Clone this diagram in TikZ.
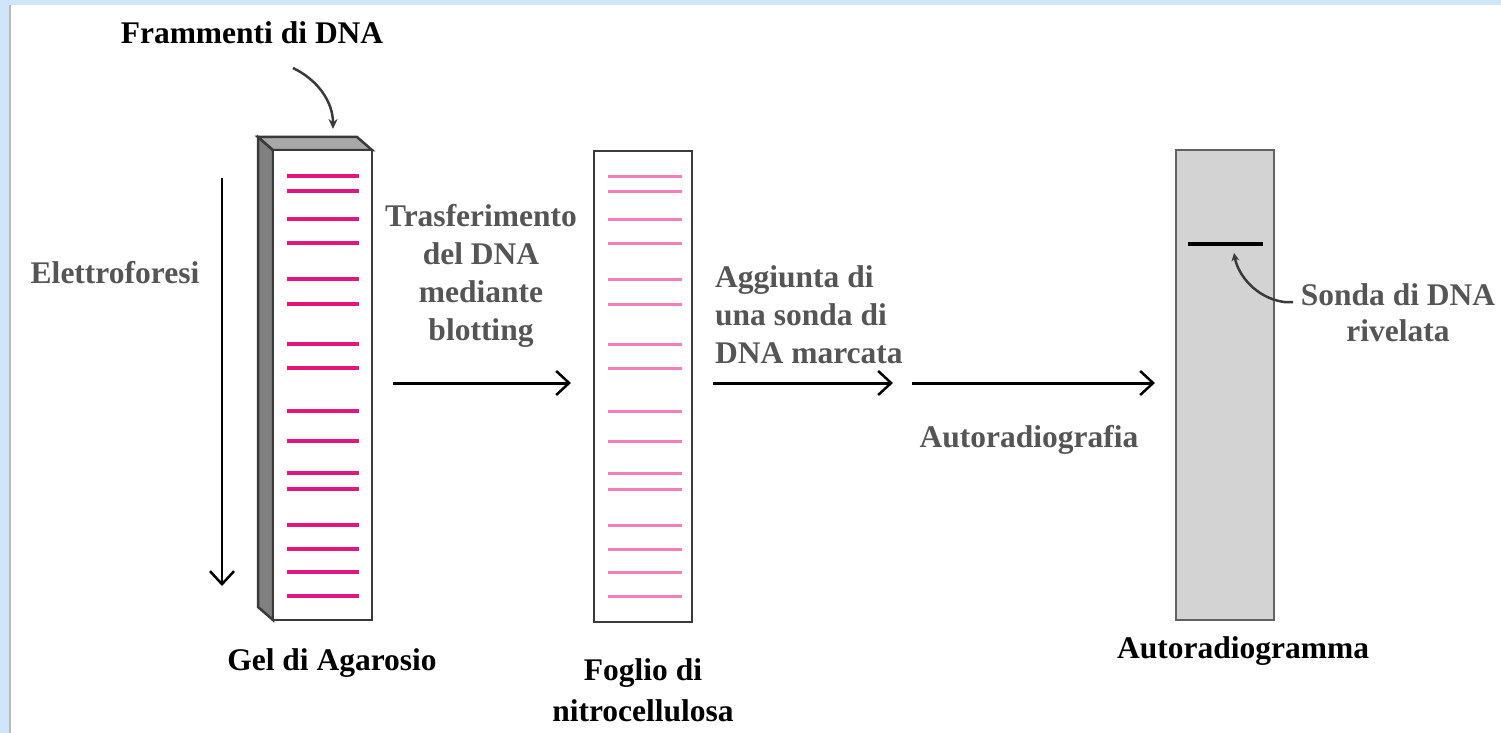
\documentclass[tikz,border=0pt]{standalone}
\usepackage{fontspec}
\setmainfont{Liberation Serif}
\usetikzlibrary{arrows.meta}
\definecolor{bandmag}{HTML}{E2167E}
\definecolor{bandpink}{HTML}{F27DBA}
\definecolor{labgray}{HTML}{555555}
\definecolor{frameblue}{HTML}{CFE6FA}
\definecolor{gelside}{HTML}{808080}
\definecolor{geltop}{HTML}{A8A8A8}
\definecolor{filmgray}{HTML}{D3D3D3}
\definecolor{edgegray}{HTML}{3A3A3A}
\tikzset{
  lab/.style={font=\bfseries\fontsize{31.5}{38}\selectfont,inner sep=0pt,anchor=base},
  graylab/.style={lab,text=labgray},
  flow/.style={line width=3pt,-{Straight Barb[length=13pt,width=24pt,line width=2.5pt]}},
  panel/.style={draw=edgegray,line width=2.5pt},
}
\begin{document}
\begin{tikzpicture}[x=1pt,y=-1pt]
  \useasboundingbox (0,0) rectangle (1501,733);
  \fill[frameblue] (0,0) rectangle (1501,5);
  \fill[frameblue] (0,0) rectangle (9,733);
  \fill[gray!55] (9,5) rectangle (11,733);

  % gel di agarosio
  \filldraw[panel,fill=gelside] (258,137) -- (273,150) -- (273,620) -- (258,607) -- cycle;
  \filldraw[panel,fill=geltop] (258,137) -- (357,137) -- (372,150) -- (273,150) -- cycle;
  \filldraw[panel,fill=white] (273,150) rectangle (372,620);
  \foreach \y in {176,191,219,243,279,304,344,368,411,441,473,489,525,549,572,596}
    \draw[bandmag,line width=3.5pt] (287,\y) -- (359,\y);

  % nitrocellulosa
  \draw[panel] (594,151) rectangle (692,622);
  \foreach \y in {176,191,219,243,279,304,344,368,411,441,473,489,525,549,572,596}
    \draw[bandpink,line width=3pt] (608,\y) -- (682,\y);

  % autoradiogramma
  \filldraw[panel,draw=edgegray!80,fill=filmgray] (1176,150) rectangle (1274,620);
  \coordinate (bandL) at (1188,244);
  \coordinate (bandR) at (1263,244);
  \draw[black,line width=3.5pt] (bandL) -- (bandR);

  % labels (multi-line: base = last line)
  \node[lab] (frammenti) at (252,44) {Frammenti di DNA};
  \node[graylab] (elettro) at (115,283) {Elettroforesi};
  \node[graylab,align=center] (trasf) at (481,340) {Trasferimento\\del DNA\\mediante\\blotting};
  \node[graylab,align=left,anchor=base west] (aggiunta) at (715,363) {Aggiunta di\\una sonda di\\DNA marcata};
  \node[graylab] (autograf) at (1029,447) {Autoradiografia};
  \node[lab] (gel) at (332,670) {Gel di Agarosio};
  \node[lab,align=center,font=\bfseries\fontsize{31.5}{41}\selectfont] (foglio) at (643,721) {Foglio di\\nitrocellulosa};
  \node[lab] (autogramma) at (1243,658) {Autoradiogramma};
  \node[graylab,align=center,font=\bfseries\fontsize{31.5}{36}\selectfont] (sonda) at (1398,341) {Sonda di DNA\\rivelata};

  % connectors
  \coordinate (frStart) at (293,68);
  \coordinate (frEnd) at (333,129);
  \draw[edgegray,line width=2.5pt,-{Stealth[length=10pt,width=9pt]}] (frStart) .. controls (318,80) and (333,102) .. (frEnd);
  \coordinate (soStart) at (1293,302);
  \coordinate (soEnd) at (1234,253);
  \draw[edgegray,line width=2.5pt,-{Stealth[length=8pt,width=8pt]}] (soStart) -- (1284,302) .. controls (1256,298) and (1238,275) .. (soEnd);
  \coordinate (elTop) at (222,178);
  \coordinate (elBot) at (222,586);
  \draw[flow,line width=2.5pt] (elTop) -- (elBot);
  \coordinate (a1s) at (393,383);
  \coordinate (a1e) at (571,383);
  \draw[flow] (a1s) -- (a1e);
  \coordinate (a2s) at (713,383);
  \coordinate (a2e) at (893,383);
  \draw[flow] (a2s) -- (a2e);
  \coordinate (a3s) at (912,383);
  \coordinate (a3e) at (1155,383);
  \draw[flow] (a3s) -- (a3e);
\end{tikzpicture}
\end{document}
